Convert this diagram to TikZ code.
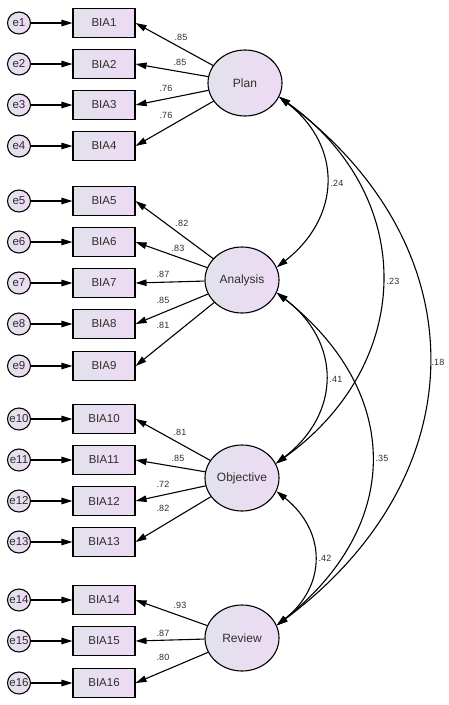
\documentclass[tikz,border=0pt]{standalone}
\usepackage{fontspec}
\setmainfont{Liberation Sans}
\usetikzlibrary{shapes.geometric,arrows.meta}
\definecolor{shL}{RGB}{226,226,236}
\definecolor{shR}{RGB}{238,218,244}
\definecolor{txt}{RGB}{45,45,45}
\begin{document}
\begin{tikzpicture}[x=1pt,y=-1pt,
  obsbox/.style={rectangle,draw,line width=1.1pt,minimum width=62pt,minimum height=29pt,inner sep=0pt,left color=shL,right color=shR,text=txt,font=\fontsize{11.5}{13}\selectfont},
  latent/.style={ellipse,draw,line width=1.1pt,minimum width=74pt,minimum height=66pt,inner sep=0pt,left color=shL,right color=shR,text=txt,font=\fontsize{12}{13}\selectfont},
  errn/.style={ellipse,draw,line width=1.1pt,minimum width=23pt,minimum height=22pt,inner sep=0pt,left color=shL,right color=shR,text=txt,font=\fontsize{11.5}{13}\selectfont},
  lab/.style={inner sep=0pt,text=txt,font=\fontsize{9}{10}\selectfont},
  tri/.style={line width=1.1pt,-{Triangle[length=11pt,width=6.5pt]}},
  cov/.style={line width=1.1pt,{Triangle[length=11pt,width=6.5pt]}-{Triangle[length=11pt,width=6.5pt]}}
]
\useasboundingbox (0,0) rectangle (449,705);

% latent variables
\node[latent] (plan) at (245,83) {Plan};
\node[latent] (ana) at (242,280) {Analysis};
\node[latent] (obj) at (242,478) {Objective};
\node[latent] (rev) at (242,638) {Review};

% observed + errors
\foreach \i/\y in {1/23,2/64,3/105,4/146,5/201,6/242,7/283,8/324,9/366,10/419,11/460,12/501,13/542,14/600,15/641,16/683}{
  \node[obsbox] (b\i) at (104,\y) {BIA\i};
  \node[errn] (e\i) at (19,\y) {\makebox[0pt]{e\i}};
  \draw[tri] (e\i) -- (b\i.west);
}

% loadings
\foreach \i/\f in {1/plan,2/plan,3/plan,4/plan,5/ana,6/ana,7/ana,8/ana,9/ana,10/obj,11/obj,12/obj,13/obj,14/rev,15/rev,16/rev}{
  \draw[tri] (\f) -- (b\i.east);
}

% loading labels
\node[lab] (l1) at (181,37) {.85};
\node[lab] (l2) at (180,62) {.85};
\node[lab] (l3) at (166,88) {.76};
\node[lab] (l4) at (166,115) {.76};
\node[lab] (l5) at (182,223) {.82};
\node[lab] (l6) at (178,248) {.83};
\node[lab] (l7) at (163,274) {.87};
\node[lab] (l8) at (163,300) {.85};
\node[lab] (l9) at (163,325) {.81};
\node[lab] (l10) at (180,432) {.81};
\node[lab] (l11) at (178,458) {.85};
\node[lab] (l12) at (163,484) {.72};
\node[lab] (l13) at (163,508) {.82};
\node[lab] (l14) at (180,605) {.93};
\node[lab] (l15) at (163,633) {.87};
\node[lab] (l16) at (163,657) {.80};

% covariances
\draw[cov] (plan.-22) .. controls +(64,50) and +(64,-50) .. (ana.20);
\draw[cov] (plan.-22) .. controls +(139,100) and +(139,-100) .. (obj.23);
\draw[cov] (plan.-22) .. controls +(201,150) and +(201,-150) .. (rev.20);
\draw[cov] (ana.-20) .. controls +(65,50) and +(65,-50) .. (obj.23);
\draw[cov] (ana.-20) .. controls +(126,100) and +(126,-100) .. (rev.20);
\draw[cov] (obj.-21) .. controls +(50,40) and +(50,-40) .. (rev.20);

\node[lab] (c1) at (337,183) {.24};
\node[lab] (c2) at (393,281) {.23};
\node[lab] (c3) at (438,362) {.18};
\node[lab] (c4) at (336,379) {.41};
\node[lab] (c5) at (382,458) {.35};
\node[lab] (c6) at (325,558) {.42};
\end{tikzpicture}
\end{document}
